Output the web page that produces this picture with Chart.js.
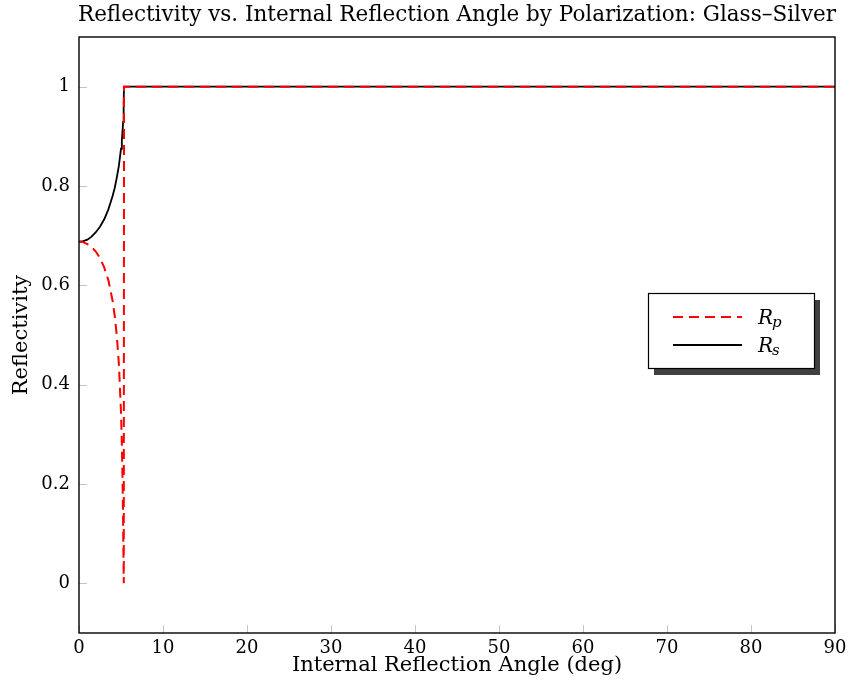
<!DOCTYPE html>
<html>
<head>
<meta charset="utf-8">
<script src="https://cdn.jsdelivr.net/npm/chart.js@4.4.1/dist/chart.umd.min.js"></script>
<style>
  html, body { margin: 0; padding: 0; background: #fff; }
  #wrap { width: 850px; height: 690px; }
</style>
</head>
<body>
<div id="wrap"><canvas id="chart"></canvas></div>
<script>
// angle of incidence (deg) and the two reflectivities
const angles = [0, 0.5, 1, 1.5, 2, 2.5, 3, 3.5, 4, 4.25, 4.5, 4.75, 5, 5.1, 5.2, 5.25, 5.3, 5.33, 5.36, 10, 20, 30, 40, 50, 60, 70, 80, 90]
const rp = [0.688, 0.687, 0.683, 0.677, 0.668, 0.655, 0.636, 0.610, 0.569, 0.539, 0.499, 0.441, 0.344, 0.282, 0.191, 0.126, 0.042, 0.0, 1, 1, 1, 1, 1, 1, 1, 1, 1, 1]
const rs = [0.688, 0.689, 0.692, 0.698, 0.707, 0.718, 0.733, 0.753, 0.780, 0.796, 0.817, 0.841, 0.875, 0.892, 0.915, 0.929, 0.949, 0.970, 1, 1, 1, 1, 1, 1, 1, 1, 1, 1]
const xTicks = [0, 10, 20, 30, 40, 50, 60, 70, 80, 90]
const yTicks = [0, 0.2, 0.4, 0.6, 0.8, 1]

const FAMILY = '"DejaVu Serif", "Liberation Serif", serif'
const tickFont = { family: FAMILY, size: 18 }
const labelFont = { family: FAMILY, size: 21 }

const ctx = document.getElementById('chart').getContext('2d')

const decor = {
    id: 'decor',
    afterDatasetsDraw(chart) {
        const c = chart.ctx
        const a = chart.chartArea
        const xs = chart.scales.x
        const ys = chart.scales.y
        c.save()
        // inward tick marks
        c.strokeStyle = '#c4c4c4'
        c.lineWidth = 1
        c.beginPath()
        xTicks.forEach(v => {
            const px = Math.round(xs.getPixelForValue(v)) + 0.5
            c.moveTo(px, a.bottom)
            c.lineTo(px, a.bottom - 8)
        })
        yTicks.forEach(v => {
            const py = Math.round(ys.getPixelForValue(v)) + 0.5
            c.moveTo(a.left, py)
            c.lineTo(a.left + 8, py)
        })
        c.stroke()
        // frame
        c.strokeStyle = '#000'
        c.lineWidth = 1.4
        c.strokeRect(a.left, a.top, a.right - a.left, a.bottom - a.top)

        // title
        c.fillStyle = '#000'
        c.font = '21.5px ' + FAMILY
        c.textAlign = 'center'
        c.textBaseline = 'middle'
        c.fillText('Reflectivity vs. Internal Reflection Angle by Polarization: Glass\u2013Silver', (a.left + a.right) / 2, 15)

        // legend box with shadow
        const bx = 648, by = 293, bw = 166, bh = 75
        c.fillStyle = '#404040'
        c.fillRect(bx + 6, by + 7, bw, bh)
        c.fillStyle = '#fff'
        c.fillRect(bx, by, bw, bh)
        c.strokeStyle = '#000'
        c.lineWidth = 1.2
        c.strokeRect(bx + 0.5, by + 0.5, bw, bh)

        const rows = [
            { y: 317, color: '#ff0000', dash: [10, 6], sub: 'p' },
            { y: 345, color: '#000000', dash: [], sub: 's' }
        ]
        rows.forEach(r => {
            c.strokeStyle = r.color
            c.lineWidth = 2
            c.setLineDash(r.dash)
            c.beginPath()
            c.moveTo(673, r.y)
            c.lineTo(742, r.y)
            c.stroke()
            c.setLineDash([])
            c.fillStyle = '#000'
            c.textAlign = 'left'
            c.textBaseline = 'alphabetic'
            c.font = 'italic 20px ' + FAMILY
            c.fillText('R', 758, r.y + 7)
            const w = c.measureText('R').width
            c.font = 'italic 15px ' + FAMILY
            c.fillText(r.sub, 758 + w - 1, r.y + 10)
        })
        c.restore()
    }
}

const chart = new Chart(ctx, {
    type: 'line',
    data: {
        datasets: [{
            label: 'Rp',
            data: angles.map((a, i) => ({ x: a, y: rp[i] })),
            borderColor: '#ff0000',
            borderWidth: 2,
            borderDash: [10, 6],
            pointRadius: 0,
            tension: 0,
            fill: false
        }, {
            label: 'Rs',
            data: angles.map((a, i) => ({ x: a, y: rs[i] })),
            borderColor: '#000000',
            borderWidth: 1.8,
            pointRadius: 0,
            tension: 0,
            fill: false
        }]
    },
    options: {
        responsive: true,
        maintainAspectRatio: false,
        animation: false,
        layout: { padding: { top: 37, right: 15, left: 0, bottom: 0 } },
        plugins: {
            legend: { display: false },
            title: { display: false },
            tooltip: { enabled: false }
        },
        scales: {
            x: {
                type: 'linear',
                min: 0,
                max: 90,
                afterBuildTicks: s => { s.ticks = xTicks.map(v => ({ value: v })) },
                afterFit: s => { s.height = 57; s.paddingRight = 0; s.paddingLeft = 0 },
                grid: { display: false, drawTicks: false },
                border: { display: false },
                ticks: { padding: 5, color: '#000', font: tickFont, maxRotation: 0, callback: v => String(v) },
                title: {
                    display: true,
                    text: 'Internal Reflection Angle (deg)',
                    color: '#000',
                    font: labelFont,
                    padding: { top: 0, bottom: 12 }
                }
            },
            y: {
                type: 'linear',
                min: -0.1,
                max: 1.1,
                afterBuildTicks: s => { s.ticks = yTicks.map(v => ({ value: v })) },
                afterFit: s => { s.width = 79 },
                grid: { display: false, drawTicks: false },
                border: { display: false },
                ticks: { padding: 9, color: '#000', font: tickFont, callback: v => String(Math.round(v * 10) / 10) },
                title: {
                    display: true,
                    text: 'Reflectivity',
                    color: '#000',
                    font: labelFont,
                    padding: { top: 9, bottom: 0 }
                }
            }
        }
    },
    plugins: [decor]
})
</script>
</body>
</html>
